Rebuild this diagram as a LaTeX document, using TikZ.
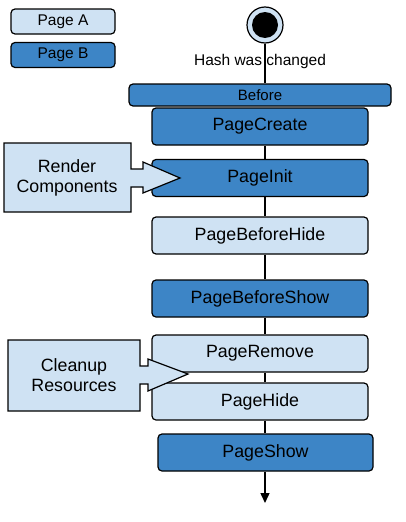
\documentclass[tikz,border=0pt]{standalone}
\usepackage{fontspec}
\setmainfont{Liberation Sans}
\usetikzlibrary{arrows.meta}
\definecolor{dblue}{HTML}{3D85C6}
\definecolor{lblue}{HTML}{CFE2F3}
\begin{document}
\begin{tikzpicture}[x=1pt,y=-1pt,
  box/.style={draw, line width=1.2pt, rounded corners=4pt, minimum width=216pt, minimum height=37pt, inner sep=0pt, font=\fontsize{17.8}{20}\selectfont},
  boxA/.style={box, fill=lblue},
  boxB/.style={box, fill=dblue},
  legend/.style={draw, line width=1.2pt, rounded corners=4pt, minimum width=104pt, minimum height=25pt, inner sep=0pt, font=\fontsize{15.5}{18}\selectfont},
  conn/.style={line width=1.4pt},
  callout/.style={draw, line width=1.2pt, fill=lblue},
  calltext/.style={align=center, font=\fontsize{17.8}{20.5}\selectfont, inner sep=0pt}]
\useasboundingbox (0,0) rectangle (405,522);
% legend
\node[legend, fill=lblue] (la) at (63,21.5) {Page A};
\node[legend, fill=dblue] (lb) at (63,55) {Page B};
% start
\node[circle, draw, line width=1.2pt, fill=lblue, minimum size=36pt, inner sep=0pt] (start) at (265,25) {};
\node[circle, fill=black, minimum size=26pt, inner sep=0pt] (startin) at (265,25) {};
\node[font=\fontsize{15.5}{18}\selectfont, inner sep=0pt] (hash) at (260,61) {Hash was changed};
% boxes
\node[box, fill=dblue, minimum width=262pt, minimum height=22pt, font=\fontsize{15}{18}\selectfont] (before) at (260,95) {Before};
\node[boxB] (create) at (260,126.5) {PageCreate};
\node[boxB] (init) at (260,178) {PageInit};
\node[boxA] (bhide) at (260,235.5) {PageBeforeHide};
\node[boxB] (bshow) at (260,298.5) {PageBeforeShow};
\node[boxA] (remove) at (260,353.5) {PageRemove};
\node[boxA] (hide) at (260,401.5) {PageHide};
\node[boxB, minimum width=215pt] (show) at (265.5,452.5) {PageShow};
\coordinate (end) at (265,503);
% connectors
\draw[conn] (start.south) -- (before.north -| start);
\draw[conn] (create.south -| start) -- (init.north -| start);
\draw[conn] (init.south -| start) -- (bhide.north -| start);
\draw[conn] (bhide.south -| start) -- (bshow.north -| start);
\draw[conn] (bshow.south -| start) -- (remove.north -| start);
\draw[conn] (remove.south -| start) -- (hide.north -| start);
\draw[conn] (hide.south -| start) -- (show.north -| start);
\draw[conn, -{Triangle[length=10pt,width=9pt]}] (show.south -| start) -- (end);
% callouts
\draw[callout] (4,143) -- (131,143) -- (131,169) -- (143,169) -- (143,162) -- (180,178) -- (143,193) -- (143,187) -- (131,187) -- (131,212) -- (4,212) -- cycle;
\node[calltext] (render) at (67,178) {Render\\Components};
\draw[callout] (8,340) -- (140,340) -- (140,366) -- (148,366) -- (148,359) -- (188,374) -- (148,391) -- (148,384) -- (140,384) -- (140,411) -- (8,411) -- cycle;
\node[calltext] (cleanup) at (74,375) {Cleanup\\Resources};
\end{tikzpicture}
\end{document}
